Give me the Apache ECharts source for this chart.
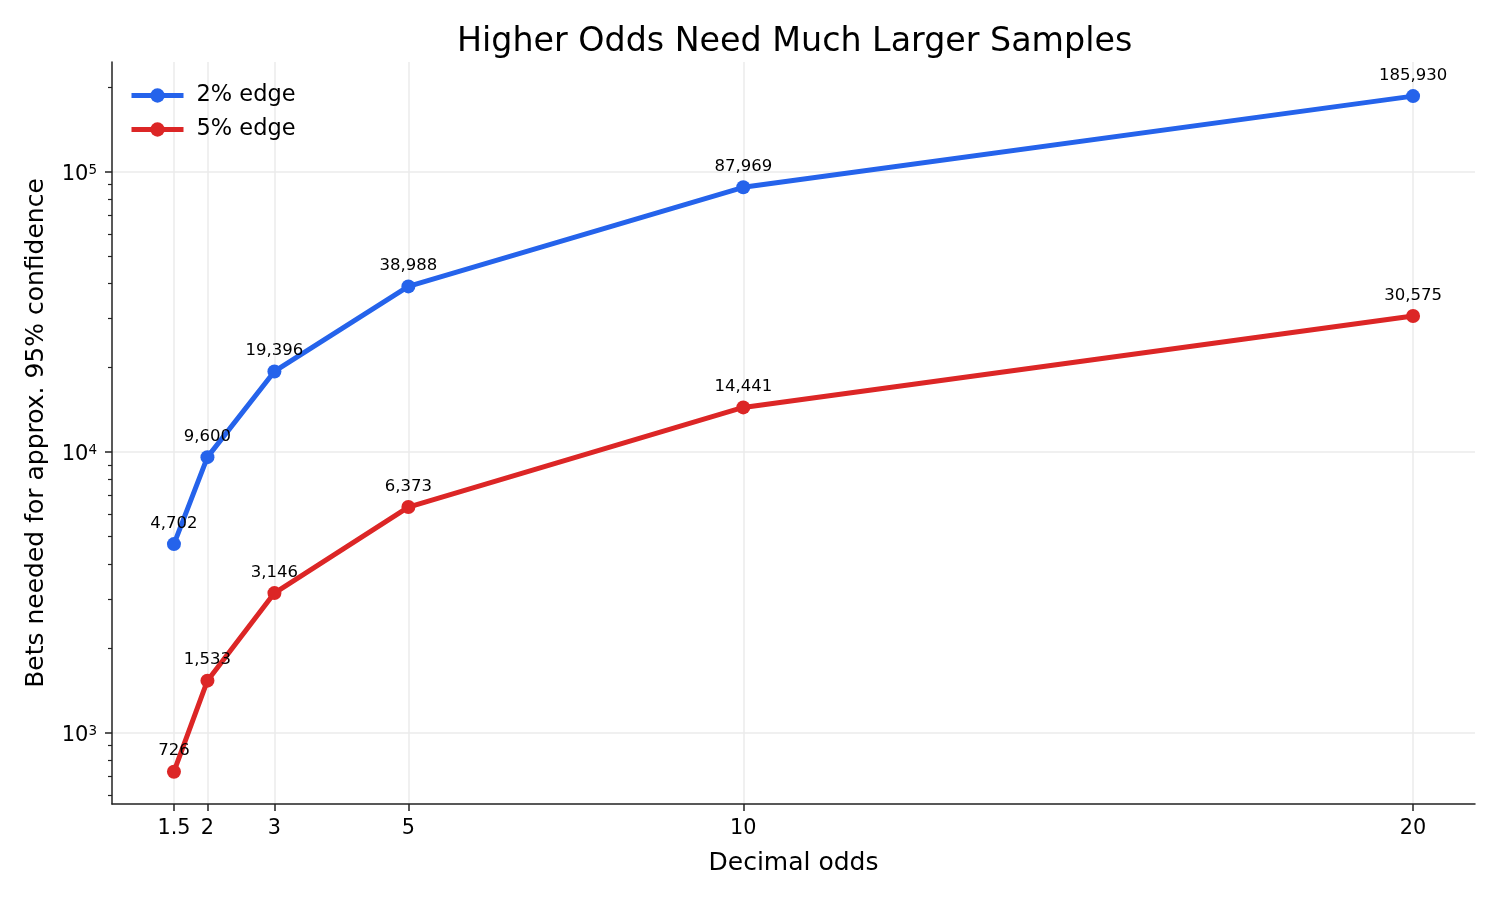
<!DOCTYPE html>
<html>
<head>
<meta charset="utf-8">
<title>Higher Odds Need Much Larger Samples</title>
<script src="https://cdn.jsdelivr.net/npm/echarts@6/dist/echarts.min.js"></script>
<style>
  html, body { margin: 0; padding: 0; background: #fff; }
  #chart { width: 1500px; height: 900px; }
</style>
</head>
<body>
<div id="chart"></div>
<script>
// data
const odds = [1.5, 2, 3, 5, 10, 20];
const edge2 = [4702, 9600, 19396, 38988, 87969, 185930];
const edge5 = [726, 1533, 3146, 6373, 14441, 30575];
const seriesNames = ['2% edge', '5% edge'];

// tick labels
const xTicks = [1.5, 2, 3, 5, 10, 20];
const yTicks = [1000, 10000, 100000];
const yMinorTicks = [600, 700, 800, 900,
  2000, 3000, 4000, 5000, 6000, 7000, 8000, 9000,
  20000, 30000, 40000, 50000, 60000, 70000, 80000, 90000,
  200000];

const FONT = 'DejaVu Sans';
const INK = '#222';
const GRID = '#ebebeb';

function pairs(xs, ys) {
  return xs.map((x, i) => [x, ys[i]]);
}

function makeSeries(name, ys, color) {
  return {
    name: name,
    type: 'line',
    data: pairs(odds, ys),
    symbol: 'circle',
    symbolSize: 14,
    itemStyle: { color: color },
    lineStyle: { color: color, width: 5 },
    label: {
      show: true,
      position: 'top',
      distance: 5,
      color: '#000',
      fontFamily: FONT,
      fontSize: 16.5,
      formatter: p => p.value[1].toLocaleString('en-US')
    },
    emphasis: { disabled: true }
  };
}

var myChart = echarts.init(document.getElementById('chart'), null, { renderer: 'canvas' });

var option = {
  animation: false,
  backgroundColor: '#fff',
  textStyle: { fontFamily: FONT },
  title: {
    text: 'Higher Odds Need Much Larger Samples',
    left: 452,
    top: 21,
    textStyle: { fontFamily: FONT, fontSize: 33.3, fontWeight: 'normal', color: '#000' }
  },
  legend: {
    data: seriesNames,
    orient: 'vertical',
    left: 129,
    top: 84,
    padding: 0,
    itemWidth: 52,
    itemHeight: 18,
    itemGap: 11,
    lineStyle: { width: 5 },
    textStyle: { fontFamily: FONT, fontSize: 22.5, color: '#000', padding: [0, 0, 0, 8] }
  },
  grid: {
    left: 112,
    right: 25,
    top: 62,
    bottom: 96,
    containLabel: false,
    outerBoundsMode: 'none'
  },
  xAxis: {
    type: 'value',
    min: 0.575,
    max: 20.925,
    name: 'Decimal odds',
    nameLocation: 'middle',
    nameGap: 47,
    nameTextStyle: { fontFamily: FONT, fontSize: 25, color: '#000' },
    axisLine: { show: true, lineStyle: { color: INK, width: 1.5 } },
    axisTick: { show: true, length: 7, lineStyle: { color: INK, width: 1.5 }, customValues: xTicks },
    axisLabel: {
      customValues: xTicks,
      margin: 14,
      fontFamily: FONT,
      fontSize: 20.8,
      color: '#000',
      formatter: v => String(v)
    },
    splitLine: { show: true, lineStyle: { color: GRID, width: 1.5 } }
  },
  yAxis: [
    {
      type: 'log',
      logBase: 10,
      min: 557,
      max: 246000,
      name: 'Bets needed for approx. 95% confidence',
      nameLocation: 'middle',
      nameGap: 63,
      nameTextStyle: { fontFamily: FONT, fontSize: 25, color: '#000' },
      axisLine: { show: true, lineStyle: { color: INK, width: 1.5 } },
      axisTick: { show: true, length: 7, lineStyle: { color: INK, width: 1.5 }, customValues: yTicks },
      axisLabel: {
        customValues: yTicks,
        margin: 15,
        padding: [5, 0, 0, 0],
        fontFamily: FONT,
        fontSize: 20.8,
        color: '#000',
        formatter: v => '{b|10}{s|' + Math.round(Math.log10(v)) + '}',
        rich: {
          b: { fontFamily: FONT, fontSize: 21, lineHeight: 22, color: '#000' },
          s: { fontFamily: FONT, fontSize: 13.5, lineHeight: 13, verticalAlign: 'top', color: '#000' }
        }
      },
      splitLine: { show: true, lineStyle: { color: GRID, width: 1.5 } },
      minorTick: { show: false },
      minorSplitLine: { show: false }
    },
    {
      // minor ticks only
      type: 'log',
      logBase: 10,
      min: 557,
      max: 246000,
      position: 'left',
      axisLine: { show: false },
      axisTick: { show: true, length: 4, lineStyle: { color: INK, width: 1.2 }, customValues: yMinorTicks },
      axisLabel: { show: false },
      splitLine: { show: false }
    }
  ],
  series: [
    makeSeries(seriesNames[0], edge2, '#2563eb'),
    makeSeries(seriesNames[1], edge5, '#dc2626')
  ]
};

myChart.setOption(option);
</script>
</body>
</html>
